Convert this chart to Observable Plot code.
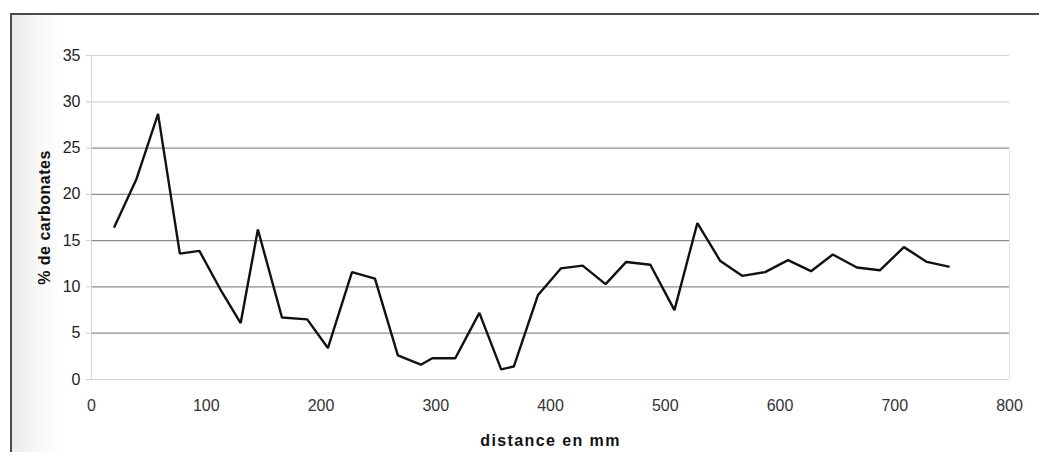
<!DOCTYPE html>
<html>
<head>
<meta charset="utf-8">
<script src="https://cdn.jsdelivr.net/npm/d3@7"></script>
<script src="https://cdn.jsdelivr.net/npm/@observablehq/plot@0.6"></script>
<style>
  html, body { margin: 0; padding: 0; background: #fff; }
  #wrap { position: relative; width: 1039px; height: 452px; overflow: hidden; background: #fff; }
  #frame { position: absolute; left: 10px; top: 13px; right: -4px; bottom: -4px;
           border-left: 2px solid #4a4a4a; border-top: 2px solid #4a4a4a;
           background: linear-gradient(to right, #e9e9e9 0px, #f7f7f7 25px, #ffffff 50px); }
  #chart { position: absolute; left: 0; top: 0; }
  svg { font-family: "Liberation Sans", Arial, sans-serif; }
</style>
</head>
<body>
<div id="wrap"><div id="frame"></div><div id="chart"></div></div>
<script>
// distance en mm
const distance = [20, 39, 58, 77, 94, 112, 130, 145, 166, 188, 206, 227, 247, 267, 287, 297, 317, 338, 357, 368,
  389, 409, 428, 448, 466, 487, 508, 528, 548, 567, 587, 607, 627, 646, 667, 687, 708, 728, 747];
// % de carbonates
const carbonates = [16.5, 21.6, 28.7, 13.6, 13.9, 9.8, 6.1, 16.2, 6.7, 6.5, 3.4, 11.6, 10.9, 2.6, 1.6, 2.3, 2.3, 7.2, 1.1, 1.4,
  9.1, 12.0, 12.3, 10.3, 12.7, 12.4, 7.5, 16.9, 12.8, 11.2, 11.6, 12.9, 11.7, 13.5, 12.1, 11.8, 14.3, 12.7, 12.2];
const xTicks = [0, 100, 200, 300, 400, 500, 600, 700, 800];
const yTicks = [0, 5, 10, 15, 20, 25, 30, 35];

const data = distance.map((d, i) => ({x: d, y: carbonates[i]}));

const chart = Plot.plot({
  width: 1039,
  height: 452,
  marginLeft: 91,
  marginRight: 30,
  marginTop: 55,
  marginBottom: 73,
  style: {background: "transparent", fontFamily: "'Liberation Sans', Arial, sans-serif", fontSize: "16px", color: "#222"},
  x: {domain: [0, 800], ticks: xTicks},
  y: {domain: [0, 35], ticks: yTicks},
  marks: [
    Plot.ruleY(yTicks, {x1: 0, x2: 800, stroke: d => (d === 0 || d >= 30) ? "#d4d4d4" : "#8c8c8c", strokeWidth: 1.2}),
    Plot.ruleX([0], {y1: 0, y2: 35, stroke: "#d8d8d8"}),
    Plot.ruleX([800], {y1: 0, y2: 25, stroke: "#e2e2e2"}),
    Plot.axisX({ticks: xTicks, tickSize: 0, tickPadding: 20, fontSize: 16, fill: "#333",
      label: "distance en mm", labelAnchor: "center", labelArrow: "none", labelOffset: 66}),
    Plot.axisY({ticks: yTicks, tickSize: 5, tickPadding: 6, stroke: "#ccc", fontSize: 16, fill: "#222",
      label: "% de carbonates", labelAnchor: "center", labelArrow: "none", labelOffset: 53}),
    Plot.line(data, {x: "x", y: "y", stroke: "#111", strokeWidth: 2.4, strokeLinejoin: "miter"})
  ]
});
d3.select(chart).selectAll("g[aria-label='x-axis label'] text, g[aria-label='x-axis label']")
  .style("font-weight", "bold").style("font-size", "16px").style("letter-spacing", "1.4px").attr("fill", "#111");
d3.select(chart).selectAll("g[aria-label='y-axis label'] text, g[aria-label='y-axis label']")
  .style("font-weight", "bold").style("font-size", "16px").style("letter-spacing", "0.5px").attr("fill", "#111");
document.getElementById("chart").appendChild(chart);
</script>
</body>
</html>
